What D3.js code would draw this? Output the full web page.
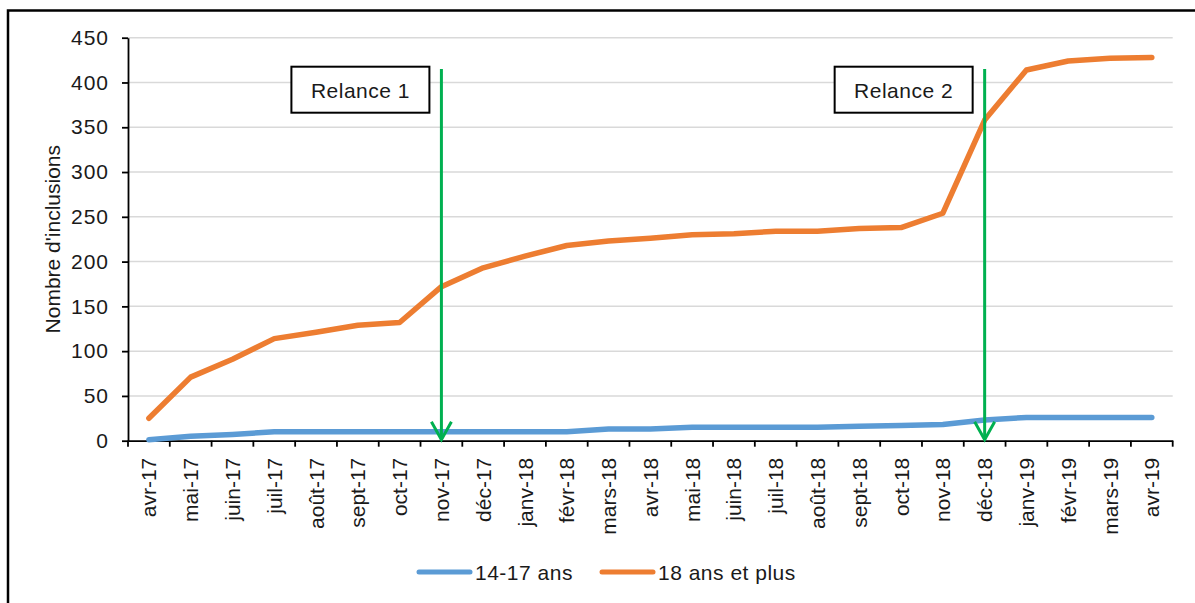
<!DOCTYPE html>
<html>
<head>
<meta charset="utf-8">
<script src="https://cdn.jsdelivr.net/npm/d3@7"></script>
<style>
  html, body { margin: 0; padding: 0; background: #fff; }
  svg { display: block; font-family: "Liberation Sans", Arial, sans-serif; }
</style>
</head>
<body>
<svg id="chart" width="1195" height="603"></svg>
<script>
const categories = ["avr-17","mai-17","juin-17","juil-17","août-17","sept-17","oct-17","nov-17","déc-17","janv-18","févr-18","mars-18","avr-18","mai-18","juin-18","juil-18","août-18","sept-18","oct-18","nov-18","déc-18","janv-19","févr-19","mars-19","avr-19"];
const seriesNames = ["14-17 ans", "18 ans et plus"];
const values1417 = [1, 5, 7, 10, 10, 10, 10, 10, 10, 10, 10, 13, 13, 15, 15, 15, 15, 16, 17, 18, 23, 26, 26, 26, 26];
const values18plus = [25, 71, 91, 114, 121, 129, 132, 172, 193, 206, 218, 223, 226, 230, 231, 234, 234, 237, 238, 254, 358, 414, 424, 427, 428];
const yTicks = [0, 50, 100, 150, 200, 250, 300, 350, 400, 450];
const relanceLabels = ["Relance 1", "Relance 2"];
const relanceMonths = ["nov-17", "déc-18"];
const seriesColors = ["#5B9BD5", "#ED7D31"];

(function () {
const svg = d3.select("#chart");
const pLeft = 128, pRight = 1172.7, pTop = 37.7, pBottom = 440.7;
const FS = 21;
const LS = 0.5;

// outer frame (cropped on right & bottom)
svg.append("rect").attr("x", 8).attr("y", 10.5).attr("width", 1300).attr("height", 700)
  .attr("fill", "#fff").attr("stroke", "#000").attr("stroke-width", 2.5);

const x = d3.scaleBand().domain(categories).range([pLeft, pRight]).padding(0);
const y = d3.scaleLinear().domain([0, 450]).range([pBottom, pTop]);
const cx = c => x(c) + x.bandwidth() / 2;

// gridlines
svg.append("g").selectAll("line").data(yTicks.filter(d => d > 0)).join("line")
  .attr("x1", pLeft).attr("x2", pRight)
  .attr("y1", d => y(d)).attr("y2", d => y(d))
  .attr("stroke", "#D9D9D9").attr("stroke-width", 1.5);

// y axis
const yAxis = svg.append("g").attr("transform", `translate(${pLeft},0)`)
  .call(d3.axisLeft(y).tickValues(yTicks).tickSize(6).tickSizeOuter(0).tickPadding(13));
yAxis.select(".domain").attr("stroke", "#000").attr("stroke-width", 1.8);
yAxis.selectAll(".tick line").attr("stroke", "#000").attr("stroke-width", 1.8);
yAxis.selectAll(".tick text").attr("font-size", FS).attr("fill", "#1a1a1a")
  .attr("letter-spacing", 1)
  .attr("font-family", "'Liberation Sans', Arial, sans-serif");

// x axis
const xAxis = svg.append("g").attr("transform", `translate(0,${pBottom})`)
  .call(d3.axisBottom(x).tickSize(0).tickSizeOuter(0).tickPadding(0));
xAxis.select(".domain").attr("stroke", "#000").attr("stroke-width", 1.8);
xAxis.selectAll(".tick text")
  .attr("font-size", FS).attr("fill", "#1a1a1a")
  .attr("font-family", "'Liberation Sans', Arial, sans-serif")
  .attr("transform", "rotate(-90)")
  .attr("text-anchor", "end")
  .attr("x", -17).attr("y", 0).attr("dy", "0.36em");
// boundary tick marks
const bounds = categories.map(c => x(c)).concat([pRight]);
svg.append("g").selectAll("line").data(bounds).join("line")
  .attr("x1", d => d).attr("x2", d => d)
  .attr("y1", pBottom).attr("y2", pBottom + 6)
  .attr("stroke", "#000").attr("stroke-width", 1.8);

// y axis title
svg.append("text")
  .attr("transform", `translate(60,${(pTop + pBottom) / 2}) rotate(-90)`)
  .attr("text-anchor", "middle")
  .attr("font-size", FS).attr("fill", "#1a1a1a")
  .text("Nombre d'inclusions");

// lines
const line = d3.line().x((d, i) => cx(categories[i])).y(d => y(d));
[values1417, values18plus].forEach((vals, k) => {
  svg.append("path").datum(vals)
    .attr("d", line)
    .attr("fill", "none")
    .attr("stroke", seriesColors[k])
    .attr("stroke-width", 5.5)
    .attr("stroke-linejoin", "round")
    .attr("stroke-linecap", "round");
});

// relance arrows and boxes
relanceMonths.forEach((m, i) => {
  const ax = cx(m);
  const g = svg.append("g");
  g.append("line").attr("x1", ax).attr("x2", ax).attr("y1", 69).attr("y2", pBottom - 1)
    .attr("stroke", "#00B050").attr("stroke-width", 3);
  g.append("path")
    .attr("d", `M${ax - 10},${pBottom - 19} L${ax},${pBottom - 1} L${ax + 10},${pBottom - 19}`)
    .attr("fill", "none").attr("stroke", "#00B050").attr("stroke-width", 3)
    .attr("stroke-linejoin", "miter");
  const bw = 138, bh = 46;
  const bx = ax - 12 - bw;
  g.append("rect").attr("x", bx).attr("y", 66.7).attr("width", bw).attr("height", bh)
    .attr("fill", "#fff").attr("stroke", "#000").attr("stroke-width", 2);
  g.append("text").attr("x", bx + bw / 2).attr("y", 66.7 + bh / 2 + 1).attr("dy", "0.36em")
    .attr("text-anchor", "middle").attr("font-size", FS).attr("fill", "#1a1a1a")
    .attr("letter-spacing", LS)
    .text(relanceLabels[i]);
});

// legend
const legendX = [419, 602];
seriesNames.forEach((name, k) => {
  const lx = legendX[k], ly = 572;
  svg.append("line").attr("x1", lx).attr("x2", lx + 51).attr("y1", ly).attr("y2", ly)
    .attr("stroke", seriesColors[k]).attr("stroke-width", 5).attr("stroke-linecap", "round");
  svg.append("text").attr("x", lx + 56).attr("y", ly).attr("dy", "0.36em")
    .attr("font-size", FS).attr("fill", "#1a1a1a")
    .attr("letter-spacing", LS)
    .text(name);
});
})();
</script>
</body>
</html>
